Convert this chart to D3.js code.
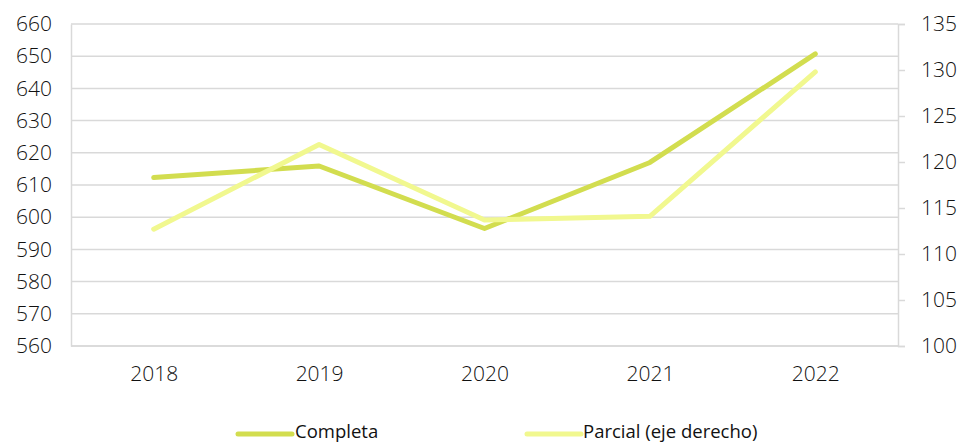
<!DOCTYPE html>
<html><head><meta charset="utf-8">
<script src="https://cdn.jsdelivr.net/npm/d3@7"></script>
<style>body{margin:0;background:#fff}svg{display:block}</style>
</head><body><svg id="c" width="959" height="443"></svg>
<script>
const categories = ["2018","2019","2020","2021","2022"];
const completa = [612.3, 615.9, 596.5, 617.0, 650.7];
const parcial = [112.7, 121.9, 113.7, 114.1, 129.8];
const leftTicks = [560,570,580,590,600,610,620,630,640,650,660];
const rightTicks = [100,105,110,115,120,125,130,135];
const seriesNames = ["Completa","Parcial (eje derecho)"];
const colors = ["#d2dd4f","#f1f88f"];

const svg = d3.select("#c");
const L = 71, R = 898, T = 24, B = 346;
const x = d3.scalePoint().domain(categories).range([L, R]).padding(0.5);
const yL = d3.scaleLinear().domain([560,660]).range([B, T]);
const yR = d3.scaleLinear().domain([100,135]).range([B, T]);
const font = "'Open Sans', Lato, sans-serif";
const fs = 21, fw = 300;

// gridlines
svg.append("g").selectAll("line").data(leftTicks).join("line")
  .attr("x1", L).attr("x2", R).attr("y1", d=>yL(d)).attr("y2", d=>yL(d))
  .attr("stroke", "#d9d9d9").attr("stroke-width", 1.5);

// left axis
const gl = svg.append("g").attr("transform", `translate(${L},0)`)
  .call(d3.axisLeft(yL).tickValues(leftTicks).tickSize(0).tickPadding(19));
gl.select(".domain").attr("stroke","#d9d9d9").attr("stroke-width",1.5);
gl.selectAll("text").attr("font-family", font).attr("font-size", fs).attr("font-weight", fw).attr("fill","#111");

// right axis
const gr = svg.append("g").attr("transform", `translate(${R},0)`)
  .call(d3.axisRight(yR).tickValues(rightTicks).tickSize(7).tickPadding(16));
gr.select(".domain").attr("stroke","#d9d9d9").attr("stroke-width",1.5);
gr.selectAll(".tick line").attr("stroke","#d9d9d9").attr("stroke-width",1.5);
gr.selectAll("text").attr("font-family", font).attr("font-size", fs).attr("font-weight", fw).attr("fill","#111");

// bottom axis
const gb = svg.append("g").attr("transform", `translate(0,${B})`)
  .call(d3.axisBottom(x).tickSize(0).tickPadding(20));
gb.select(".domain").attr("stroke","#d9d9d9").attr("stroke-width",1.5).attr("d", `M${L},0H${R}`);
gb.selectAll("text").attr("font-family", font).attr("font-size", fs).attr("font-weight", fw).attr("fill","#111");

// lines
const lineL = d3.line().x((d,i)=>x(categories[i])).y(d=>yL(d));
const lineR = d3.line().x((d,i)=>x(categories[i])).y(d=>yR(d));
svg.append("path").attr("d", lineL(completa)).attr("fill","none")
  .attr("stroke", colors[0]).attr("stroke-width", 5).attr("stroke-linecap","round").attr("stroke-linejoin","round");
svg.append("path").attr("d", lineR(parcial)).attr("fill","none")
  .attr("stroke", colors[1]).attr("stroke-width", 5).attr("stroke-linecap","round").attr("stroke-linejoin","round");

// legend
const leg = [{x:238, tx:295}, {x:527, tx:583}];
seriesNames.forEach((n,i)=>{
  svg.append("line").attr("x1", leg[i].x).attr("x2", leg[i].x+54).attr("y1", 434).attr("y2", 434)
    .attr("stroke", colors[i]).attr("stroke-width", 5).attr("stroke-linecap","round");
  svg.append("text").attr("x", leg[i].tx).attr("y", 437.5).text(n)
    .attr("font-family", "'Open Sans', 'Liberation Sans', sans-serif").attr("font-size", 18.5).attr("fill","#111");
});
</script></body></html>
